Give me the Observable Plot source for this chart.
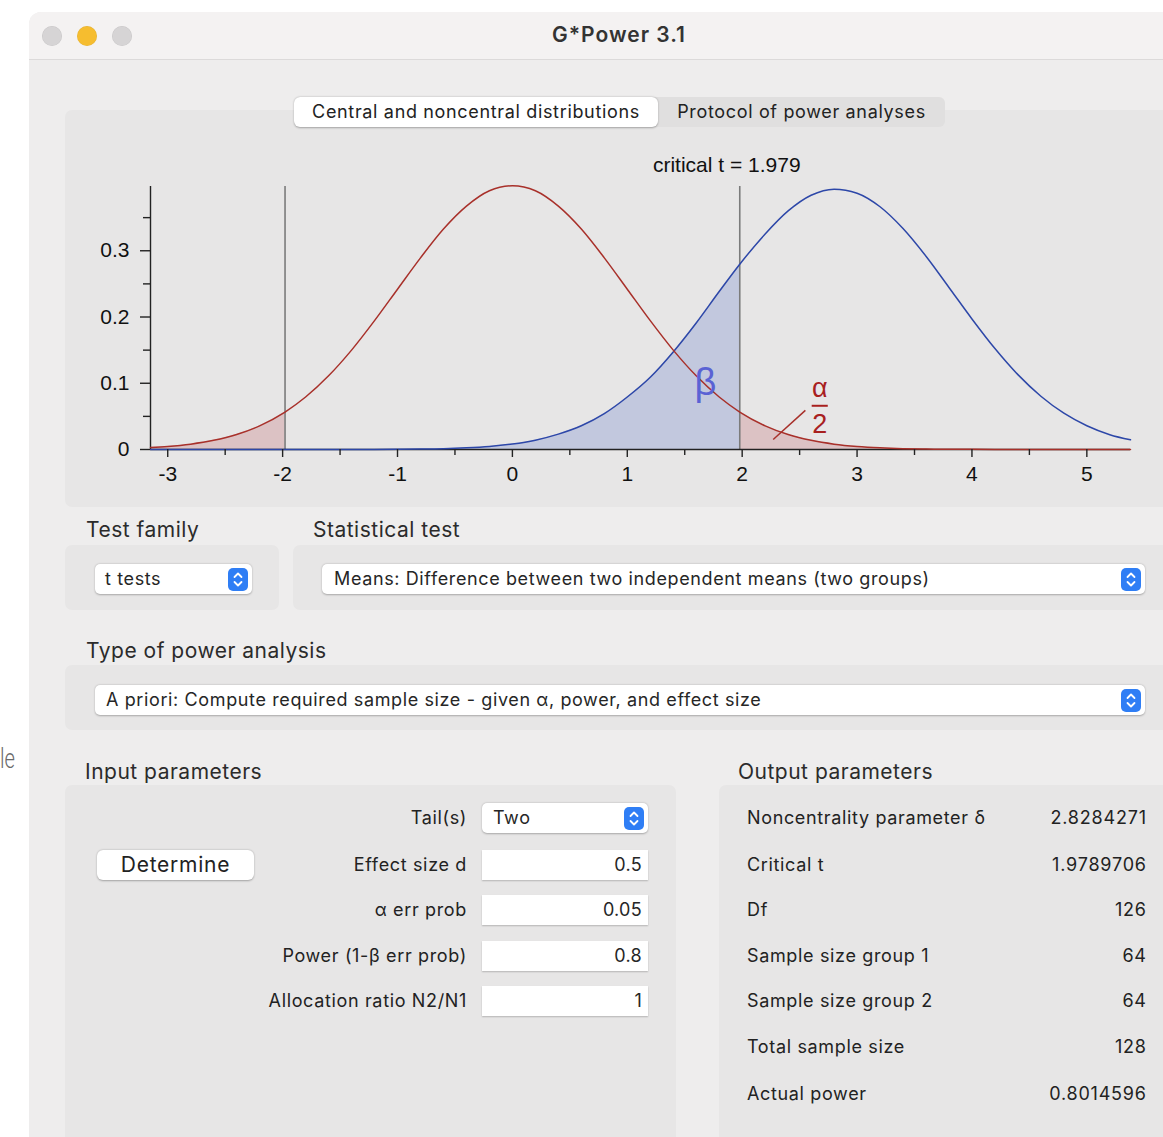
<!DOCTYPE html>
<html>
<head>
<meta charset="utf-8">
<script src="https://cdn.jsdelivr.net/npm/d3@7"></script>
<script src="https://cdn.jsdelivr.net/npm/@observablehq/plot@0.6"></script>
<style>
  html, body { margin: 0; padding: 0; }
  body { width: 1163px; height: 1137px; position: relative; overflow: hidden; background: #ffffff;
         font-family: Inter, "Open Sans", "Noto Sans", sans-serif; color: #262626; }
  .abs { position: absolute; box-sizing: border-box; }
  .panel { background: #e7e6e6; border-radius: 7px; }
  .drop { background: #fff; border-radius: 5px; box-shadow: 0 0.5px 2px rgba(0,0,0,0.28); font-size: 18px; white-space: nowrap; letter-spacing: 0.62px; }
  .field { background: #fff; box-shadow: 0 1px 1.5px rgba(0,0,0,0.22); font-size: 18px; text-align: right; padding-right: 6px; letter-spacing: 0.3px; }
  .hdr { font-size: 21px; color: #2b2b2b; white-space: nowrap; letter-spacing: 0.5px; }
  .row { font-size: 18px; white-space: nowrap; color: #222; letter-spacing: 0.65px; }
  .step { background: #2f7ef5; border-radius: 5px; }
</style>
</head>
<body>
<div id="root"></div>
<script>
// ---------- data ----------
const xs = [-3.15, -3.0, -2.8, -2.6, -2.4, -2.2, -1.979, -1.8, -1.6, -1.4, -1.2, -1.0, -0.8, -0.6, -0.4, -0.2,
  0, 0.2, 0.4, 0.6, 0.8, 1.0, 1.2, 1.4, 1.6, 1.8, 1.979, 2.2, 2.4, 2.6, 2.8, 3.0, 3.2, 3.4, 3.6, 3.8,
  4.0, 4.2, 4.4, 4.6, 4.8, 5.0, 5.2, 5.38];
const centralDensity = [0.0030, 0.0046, 0.0081, 0.0138, 0.0226, 0.0357, 0.0565, 0.0792, 0.1112, 0.1500, 0.1945,
  0.2420, 0.2893, 0.3328, 0.3674, 0.3906, 0.3981, 0.3906, 0.3674, 0.3328, 0.2893, 0.2420, 0.1945, 0.1500,
  0.1112, 0.0792, 0.0565, 0.0357, 0.0226, 0.0138, 0.0081, 0.0046, 0.0025, 0.0013, 0.0007, 0.0003, 0.0002,
  0.0001, 0, 0, 0, 0, 0, 0];
const noncentralDensity = [0, 0, 0, 0, 0, 0, 0, 0, 0.00003, 0.00007, 0.00016, 0.00034, 0.00068, 0.0013, 0.0026,
  0.0047, 0.0083, 0.0141, 0.0232, 0.0358, 0.0542, 0.0793, 0.1091, 0.1473, 0.1910, 0.2384, 0.2797, 0.3253,
  0.3601, 0.3838, 0.3930, 0.3869, 0.3664, 0.3335, 0.2917, 0.2446, 0.1971, 0.1524, 0.1130, 0.0804, 0.0548,
  0.0359, 0.0224, 0.0146];
const criticalT = 1.979;
const xDomain = [-3.15, 5.38];
const yDomain = [0, 0.397];
const xTicks = [-3, -2, -1, 0, 1, 2, 3, 4, 5];
const xMinorTicks = [-2.5, -1.5, -0.5, 0.5, 1.5, 2.5, 3.5, 4.5];
const yTicks = [0, 0.1, 0.2, 0.3];
const yMinorTicks = [0.05, 0.15, 0.25, 0.35];
const betaLabel = [{x: 1.68, y: 0.1, text: "β"}];
const alphaLabels = [{x: 2.675, y: 0.092, text: "α"}, {x: 2.675, y: 0.038, text: "2"}];
const fractionBar = [{x1: 2.605, x2: 2.745, y: 0.066}];
const alphaPointer = [{x1: 2.27, y1: 0.015, x2: 2.55, y2: 0.059}];

const windowTitle = "G*Power 3.1";
const tabs = ["Central and noncentral distributions", "Protocol of power analyses"];
const testFamily = "t tests";
const statisticalTest = "Means: Difference between two independent means (two groups)";
const analysisType = "A priori: Compute required sample size - given α, power, and effect size";
const inputLabels = ["Tail(s)", "Effect size d", "α err prob", "Power (1-β err prob)", "Allocation ratio N2/N1"];
const inputValues = ["Two", "0.5", "0.05", "0.8", "1"];
const outputLabels = ["Noncentrality parameter δ", "Critical t", "Df", "Sample size group 1", "Sample size group 2", "Total sample size", "Actual power"];
const outputValues = ["2.8284271", "1.9789706", "126", "64", "64", "128", "0.8014596"];

// ---------- helpers ----------
const root = document.getElementById("root");
function box(cls, left, top, width, height, text, extra) {
  const d = document.createElement("div");
  d.className = "abs " + (cls || "");
  Object.assign(d.style, {left: left + "px", top: top + "px", width: width + "px", height: height + "px"});
  if (height) d.style.lineHeight = height + "px";
  if (text != null) d.textContent = text;
  if (extra) Object.assign(d.style, extra);
  root.appendChild(d);
  return d;
}
function stepper(left, top) {
  const s = box("step", left, top, 20, 23);
  s.innerHTML = '<svg width="20" height="23" style="position:absolute;left:0;top:0"><polyline points="6.5,9 10,5.5 13.5,9" fill="none" stroke="#fff" stroke-width="1.8" stroke-linecap="round" stroke-linejoin="round"/><polyline points="6.5,14 10,17.5 13.5,14" fill="none" stroke="#fff" stroke-width="1.8" stroke-linecap="round" stroke-linejoin="round"/></svg>';
}
function dropdown(left, top, width, text, textLeft) {
  const d = box("drop", left, top, width, 30);
  const t = document.createElement("span");
  t.textContent = text;
  t.style.position = "absolute"; t.style.left = textLeft + "px"; t.style.top = "0";
  d.appendChild(t);
  stepper(left + width - 24, top + 4);
}

// ---------- window chrome ----------
box("", 0, 742, 30, 34, "le", {fontFamily: "Roboto", fontWeight: "300", fontSize: "28px", color: "#6a6a6a", transform: "scaleX(0.72)", transformOrigin: "left center"});
box("", 29, 12, 1160, 1140, null, {background: "#eeeded", borderTopLeftRadius: "12px"});
box("", 29, 12, 1160, 48, null, {background: "#f4f2f2", borderTopLeftRadius: "12px", borderBottom: "1px solid #dcdada"});
[["#d6d4d5", 52], ["#f6bd2f", 87], ["#d6d4d5", 122]].forEach(([c, x]) =>
  box("", x - 10, 26, 20, 20, null, {background: c, borderRadius: "50%", boxShadow: "inset 0 0 0 0.5px rgba(0,0,0,0.08)"}));
box("", 469, 22, 300, 26, windowTitle, {textAlign: "center", fontWeight: "600", fontSize: "21px", letterSpacing: "1px", color: "#333"});

// chart panel + tabs
box("panel", 65, 110, 1110, 397);
box("", 294, 97, 651, 30, null, {background: "#e0dfdf", borderRadius: "6px"});
box("", 294, 97, 364, 30, tabs[0], {background: "#fff", borderRadius: "6px", boxShadow: "0 0.5px 2px rgba(0,0,0,0.3)", textAlign: "center", fontSize: "18px", letterSpacing: "0.66px", color: "#222"});
box("", 658, 97, 287, 30, tabs[1], {textAlign: "center", fontSize: "18px", letterSpacing: "0.66px", color: "#222"});

// test family / statistical test
box("hdr", 86, 516, 200, 28, "Test family");
box("hdr", 313, 516, 300, 28, "Statistical test");
box("panel", 65, 545, 214, 65);
box("panel", 293, 545, 880, 65);
dropdown(95, 564, 157, testFamily, 10);
dropdown(322, 564, 823, statisticalTest, 12);

box("hdr", 86, 637, 400, 28, "Type of power analysis");
box("panel", 65, 665, 1110, 65);
dropdown(95, 685, 1050, analysisType, 11);

// input parameters
box("hdr", 85, 758, 300, 28, "Input parameters");
box("panel", 65, 785, 611, 400);
const inputRowsY = [818, 865, 910, 956, 1001];
inputLabels.forEach((lab, i) => box("row", 147, inputRowsY[i] - 15, 320, 30, lab, {textAlign: "right"}));
dropdown(482, 803, 166, inputValues[0], 11);
inputValues.slice(1).forEach((v, i) => box("field", 482, inputRowsY[i + 1] - 15, 166, 30, v));
box("", 97, 850, 157, 30, "Determine", {background: "#fff", borderRadius: "6px", boxShadow: "0 0.5px 2px rgba(0,0,0,0.3)", textAlign: "center", fontSize: "21px", letterSpacing: "0.75px", color: "#222"});

// output parameters
box("hdr", 738, 758, 300, 28, "Output parameters");
box("panel", 719, 785, 460, 400);
const outputRowsY = [818, 865, 910, 956, 1001, 1047, 1094];
outputLabels.forEach((lab, i) => box("row", 747, outputRowsY[i] - 15, 280, 30, lab));
outputValues.forEach((v, i) => box("row", 1000, outputRowsY[i] - 15, 146, 30, v, {textAlign: "right", letterSpacing: "0.8px", marginLeft: "0.8px"}));

// ---------- the chart ----------
const central = xs.map((x, i) => ({x, y: centralDensity[i]}));
const noncentral = xs.map((x, i) => ({x, y: noncentralDensity[i]}));
const curve = "monotone-x";
const chart = Plot.plot({
  width: 1098,
  height: 375,
  marginLeft: 85, marginRight: 33, marginTop: 56, marginBottom: 56,
  x: {domain: xDomain, label: null},
  y: {domain: yDomain, label: null},
  style: {background: "transparent", fontFamily: "'Liberation Sans', Arial, sans-serif", fontSize: "21px", color: "#111", overflow: "visible"},
  marks: [
    Plot.areaY(noncentral.filter(d => d.x <= criticalT), {x: "x", y: "y", fill: "#c2c8de", curve}),
    Plot.areaY(central.filter(d => d.x <= -criticalT), {x: "x", y: "y", fill: "#dcc2c4", curve}),
    Plot.areaY(central.filter(d => d.x >= criticalT), {x: "x", y: "y", fill: "#dcc2c4", curve}),
    Plot.ruleX([-criticalT, criticalT], {y1: yDomain[0], y2: yDomain[1], stroke: "#7b7b7b", strokeWidth: 1.6}),
    Plot.ruleY([0], {x1: xDomain[0], x2: xDomain[1], stroke: "#222", strokeWidth: 1.4}),
    Plot.ruleX([xDomain[0]], {y1: yDomain[0], y2: yDomain[1], stroke: "#222", strokeWidth: 1.4}),
    Plot.line(noncentral, {x: "x", y: "y", stroke: "#2d47a8", strokeWidth: 1.5, curve}),
    Plot.line(central, {x: "x", y: "y", stroke: "#a8302a", strokeWidth: 1.5, curve}),
    Plot.axisX({ticks: xTicks, tickSize: 8, tickPadding: 9, tickFormat: d => String(d), stroke: "#222", strokeWidth: 1.4}),
    Plot.axisX({ticks: xMinorTicks, tickSize: 6, tickFormat: () => "", stroke: "#222", strokeWidth: 1.4}),
    Plot.axisY({ticks: yTicks, tickSize: 10, tickPadding: 11, tickFormat: d => String(d), stroke: "#222", strokeWidth: 1.4}),
    Plot.axisY({ticks: yMinorTicks, tickSize: 7, tickFormat: () => "", stroke: "#222", strokeWidth: 1.4}),
    Plot.text([criticalT], {x: d => d, frameAnchor: "top", lineAnchor: "middle", dy: -21, dx: -13, text: () => `critical t = ${criticalT}`, fontSize: 21, fill: "#111"}),
    Plot.text(betaLabel, {x: "x", y: "y", text: "text", fill: "#5a62d4", fontSize: 38}),
    Plot.text(alphaLabels, {x: "x", y: "y", text: "text", fill: "#a8201f", fontSize: 27}),
    Plot.link(fractionBar, {x1: "x1", x2: "x2", y1: "y", y2: "y", stroke: "#a8201f", strokeWidth: 2}),
    Plot.link(alphaPointer, {x1: "x1", y1: "y1", x2: "x2", y2: "y2", stroke: "#a8302a", strokeWidth: 1.5})
  ]
});
chart.style.position = "absolute";
chart.style.left = "65px";
chart.style.top = "130px";
root.appendChild(chart);
</script>
</body>
</html>
